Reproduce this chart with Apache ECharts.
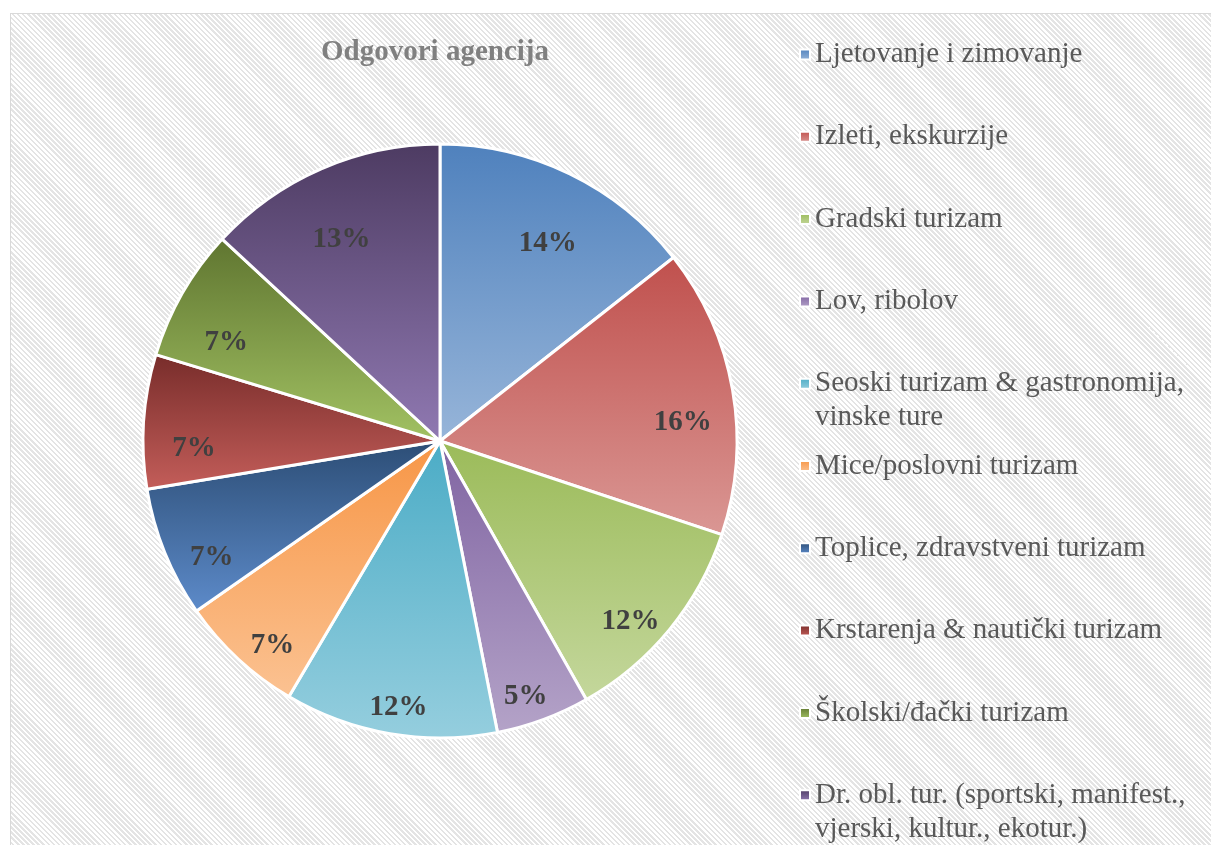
<!DOCTYPE html>
<html>
<head>
<meta charset="utf-8">
<title>Odgovori agencija</title>
<script src="https://cdn.jsdelivr.net/npm/echarts@6/dist/echarts.min.js"></script>
<style>
  html, body { margin: 0; padding: 0; width: 1211px; height: 845px; overflow: hidden; background: #fff; }
  .chart-bg {
    position: absolute; left: 10px; top: 13px; width: 1240px; height: 880px;
    border: 1px solid #d9d9d9; box-sizing: border-box;
    background: repeating-linear-gradient(45deg, #ffffff 0px, #ffffff 1.8px, #e4e4e4 1.8px, #e4e4e4 3.6px);
  }
  #J_chartPieBox { position: absolute; left: 0; top: 0; width: 1211px; height: 845px; }
</style>
</head>
<body>
<div class="chart-bg"></div>
<div id="J_chartPieBox"></div>
<script>
  // kategorije i udjeli (u %)
  var categories = [
    'Ljetovanje i zimovanje',
    'Izleti, ekskurzije',
    'Gradski turizam',
    'Lov, ribolov',
    'Seoski turizam & gastronomija, vinske ture',
    'Mice/poslovni turizam',
    'Toplice, zdravstveni turizam',
    'Krstarenja & nautički turizam',
    'Školski/đački turizam',
    'Dr. obl. tur. (sportski, manifest., vjerski, kultur., ekotur.)'
  ]
  var shares = [14.4, 15.7, 11.7, 5.1, 11.6, 6.8, 7.1, 7.3, 7.2, 13.1]
  // legend tekst s prijelomom reda
  var legendLines = [
    ['Ljetovanje i zimovanje'],
    ['Izleti, ekskurzije'],
    ['Gradski turizam'],
    ['Lov, ribolov'],
    ['Seoski turizam & gastronomija,', 'vinske ture'],
    ['Mice/poslovni turizam'],
    ['Toplice, zdravstveni turizam'],
    ['Krstarenja & nautički turizam'],
    ['Školski/đački turizam'],
    ['Dr. obl. tur. (sportski, manifest.,', 'vjerski, kultur., ekotur.)']
  ]
  // gradijent: gore tamnije, dolje svjetlije
  var topColors = ['#4F81BD', '#C0504D', '#9BBB59', '#8064A2', '#4BACC6', '#F79646', '#2C4D75', '#772C2A', '#5F7530', '#4D3B62']
  var bottomColors = ['#97B5D9', '#DA9794', '#C4D79C', '#B4A3C8', '#95CEDE', '#FBC292', '#5D8BCA', '#C45E5A', '#A2C263', '#9079B2']

  var serifFont = '"Liberation Serif", "Times New Roman", serif'

  function gradient (i) {
    return new echarts.graphic.LinearGradient(0, 0, 0, 1, [
      { offset: 0, color: topColors[i] },
      { offset: 1, color: bottomColors[i] }
    ])
  }

  var pieData = categories.map(function (name, i) {
    return { name: name, value: shares[i], itemStyle: { color: gradient(i) } }
  })
  var labelData = categories.map(function (name, i) {
    return { name: name, value: shares[i] }
  })

  var legends = categories.map(function (name, i) {
    var lines = legendLines[i]
    return {
      data: [name],
      orient: 'vertical',
      left: 794,
      top: 52 + i * 82.3 - 17,
      icon: 'rect',
      itemWidth: 10,
      itemHeight: 10,
      itemGap: 0,
      selectedMode: false,
      formatter: function () {
        return lines.map(function (l) { return '{t|' + l + '}' }).join('\n')
      },
      textStyle: {
        padding: lines.length > 1 ? [34, 0, 0, 0] : [34, 0, 34, 0],
        rich: {
          t: { fontFamily: serifFont, fontSize: 29, lineHeight: 34, color: '#595959' }
        }
      }
    }
  })

  var option = {
    animation: false,
    backgroundColor: 'transparent',
    title: {
      text: 'Odgovori agencija',
      left: 430,
      top: 33,
      textAlign: 'center',
      textStyle: { fontFamily: serifFont, fontSize: 29, fontWeight: 'bold', color: '#808080' }
    },
    legend: legends,
    series: [
      {
        type: 'pie',
        center: [440, 441],
        radius: [0, 297],
        startAngle: 90,
        clockwise: true,
        avoidLabelOverlap: false,
        label: { show: false },
        labelLine: { show: false },
        itemStyle: { borderColor: '#ffffff', borderWidth: 3 },
        emphasis: { disabled: true },
        data: pieData
      },
      {
        // samo za postotke (položaj bliže rubu)
        type: 'pie',
        silent: true,
        center: [440, 441],
        radius: [190, 297],
        startAngle: 90,
        clockwise: true,
        avoidLabelOverlap: false,
        itemStyle: { color: 'transparent', borderWidth: 0 },
        labelLine: { show: false },
        label: {
          show: true,
          position: 'inside',
          offset: [0, 24],
          formatter: function (p) { return Math.round(p.percent) + '%' },
          fontFamily: serifFont,
          fontSize: 29,
          fontWeight: 'bold',
          color: '#404040'
        },
        emphasis: { disabled: true },
        data: labelData
      }
    ]
  }

  var chartPie = echarts.init(document.getElementById('J_chartPieBox'))
  chartPie.setOption(option)
  window.addEventListener('resize', function () {
    chartPie.resize()
  })
</script>
</body>
</html>
